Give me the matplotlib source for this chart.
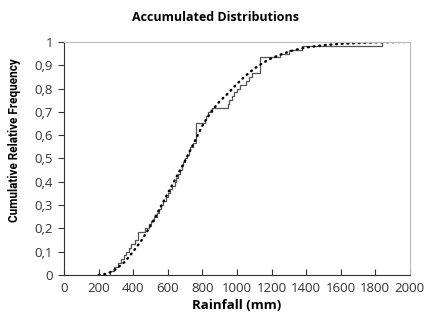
import matplotlib
matplotlib.use("Agg")
from matplotlib import pyplot as plt
from matplotlib.ticker import FuncFormatter
import numpy as np

# observed annual rainfall sample (mm), sorted
rainfall = [265, 290, 310, 330, 345, 360, 375, 390, 410, 428,
            428, 470, 490, 505, 520, 535, 550, 560, 575, 590,
            600, 615, 625, 640, 650, 660, 670, 680, 690, 700,
            710, 720, 730, 745, 763, 763, 763, 763, 763, 815,
            820, 830, 855, 948, 955, 970, 985, 1000, 1020, 1050,
            1070, 1090, 1133, 1133, 1133, 1133, 1250, 1300, 1376, 1838]

# fitted distribution, cumulative values
fit_x = [200, 250, 300, 350, 400, 450, 500, 550, 600, 650, 700, 750,
         800, 850, 900, 950, 1000, 1050, 1100, 1150, 1200, 1250, 1300,
         1350, 1400, 1500, 1600, 1700, 1800, 1900, 2000]
fit_f = [0.0, 0.005, 0.025, 0.055, 0.10, 0.15, 0.21, 0.28, 0.35, 0.42,
         0.49, 0.565, 0.64, 0.70, 0.745, 0.78, 0.82, 0.855, 0.885, 0.91,
         0.93, 0.945, 0.958, 0.968, 0.976, 0.986, 0.992, 0.995, 0.998,
         0.999, 1.0]

x_ticks = list(range(0, 2001, 200))
y_ticks = [0, 0.1, 0.2, 0.3, 0.4, 0.5, 0.6, 0.7, 0.8, 0.9, 1]

plt.rcParams['font.family'] = ['Open Sans', 'DejaVu Sans']

fig = plt.figure(figsize=(4.3, 3.2), dpi=100)
ax = fig.add_axes([0.149, 0.141, 0.804, 0.728])

n = len(rainfall)
xs = np.array([rainfall[0]] + rainfall)
fs = np.concatenate([[0.0], np.arange(1, n + 1) / n])
ax.step(xs, fs, where='post', color='#555555', lw=0.9)

ax.plot(fit_x, fit_f, color='black', lw=1.7, dashes=(0.4, 2.0),
        dash_capstyle='round')

ax.set_xlim(0, 2000)
ax.set_ylim(0, 1)
ax.set_xticks(x_ticks)
ax.set_yticks(y_ticks)
ax.yaxis.set_major_formatter(FuncFormatter(
    lambda v, p: ('%g' % round(v, 1)).replace('.', ',')))

for s in ['top', 'right']:
    ax.spines[s].set_color('#bbbbbb')
for s in ['left', 'bottom']:
    ax.spines[s].set_color('#333333')
    ax.spines[s].set_linewidth(0.8)
ax.tick_params(axis='x', direction='in', length=4, labelsize=9.5,
               colors='#333333', pad=5)
ax.tick_params(axis='y', direction='out', length=4, labelsize=9.5,
               colors='#333333', pad=4)

ax.set_xlabel('Rainfall (mm)', fontsize=9.5, fontweight='bold', labelpad=3)
ax.set_ylabel('Cumulative Relative Frequency', fontsize=8.5,
              fontweight='bold', family=['Roboto', 'DejaVu Sans'])
ax.yaxis.set_label_coords(-0.125, 0.58)
fig.text(0.5, 0.945, 'Accumulated Distributions', ha='center', va='center',
         fontsize=9, fontweight='bold')

fig.savefig('out.png', dpi=100)
